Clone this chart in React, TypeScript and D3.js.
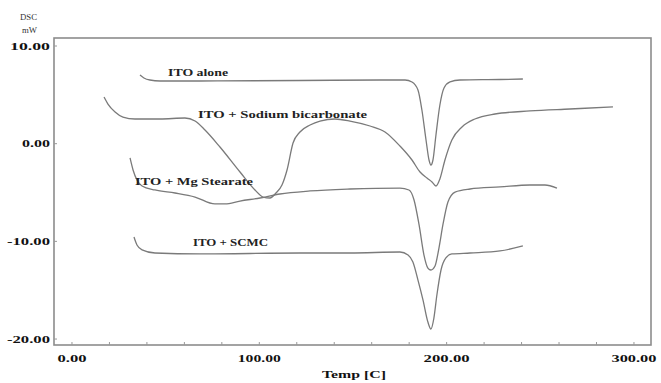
import React from "react";
import * as d3 from "d3";

// ---- data ----
const xTicks = [0, 100, 200, 300];
const xTickLabels = ["0.00", "100.00", "200.00", "300.00"];
const yTicks = [10, 0, -10, -20];
const yTickLabels = ["10.00", "0.00", "-10.00", "-20.00"];

const itoAloneT = [36.3, 38.4, 41.6, 47.0, 68.3, 121.7, 164.4, 177.8, 181.5, 184.7, 186.8, 189.0, 190.6, 191.6, 192.7, 194.3, 196.4, 198.6, 201.8, 207.1, 228.5, 240.7];
const itoAloneY = [7.03, 6.73, 6.52, 6.42, 6.42, 6.47, 6.52, 6.52, 6.32, 5.5, 3.45, 0.38, -1.67, -2.18, -1.67, 0.89, 3.96, 5.7, 6.32, 6.52, 6.57, 6.62];

const sodiumT = [17.1, 19.2, 23.0, 27.2, 33.6, 47.0, 60.3, 65.7, 71.0, 79.0, 89.7, 97.7, 102.0, 105.7, 108.9, 112.1, 114.8, 118.0, 121.7, 127.1, 132.4, 140.4, 148.4, 159.1, 167.1, 175.1, 181.5, 185.8, 189.5, 192.2, 194.3, 196.4, 199.1, 202.8, 208.2, 215.1, 225.8, 244.5, 265.8, 288.8];
const sodiumY = [4.78, 4.06, 3.25, 2.73, 2.53, 2.53, 2.63, 2.32, 1.4, -0.34, -2.9, -4.74, -5.46, -5.56, -5.05, -4.23, -2.69, 0.07, 1.2, 1.91, 2.32, 2.53, 2.32, 1.81, 1.2, -0.24, -1.67, -2.9, -3.51, -3.92, -4.33, -3.61, -1.67, 0.38, 1.71, 2.53, 3.04, 3.35, 3.55, 3.76];

const mgT = [31.0, 32.6, 34.7, 37.4, 44.3, 55.0, 65.7, 76.3, 81.7, 89.7, 100.4, 111.0, 127.1, 148.4, 175.1, 179.9, 182.6, 185.3, 187.9, 190.0, 191.6, 193.8, 195.9, 198.0, 200.7, 204.5, 212.5, 228.5, 244.5, 252.5, 258.9];
const mgY = [-1.46, -2.69, -3.72, -4.33, -4.74, -5.05, -5.46, -6.17, -6.17, -5.87, -5.56, -5.15, -4.84, -4.64, -4.54, -4.74, -5.76, -8.32, -11.4, -12.73, -12.93, -12.52, -10.68, -8.32, -5.97, -4.95, -4.64, -4.43, -4.23, -4.23, -4.54];

const scmcT = [33.1, 34.7, 37.4, 44.3, 68.3, 121.7, 148.4, 175.1, 179.4, 182.0, 184.7, 187.4, 190.0, 191.6, 193.2, 194.8, 197.0, 199.6, 202.8, 212.5, 228.5, 240.7];
const scmcY = [-9.55, -10.37, -10.87, -11.19, -11.29, -11.19, -11.19, -11.09, -11.4, -12.11, -13.96, -16.01, -18.26, -18.97, -17.85, -15.49, -12.93, -11.7, -11.29, -11.19, -10.98, -10.47];

const seriesNames = ["ITO alone", "ITO + Sodium bicarbonate", "ITO + Mg Stearate", "ITO + SCMC"];
const seriesT = [itoAloneT, sodiumT, mgT, scmcT];
const seriesY = [itoAloneY, sodiumY, mgY, scmcY];
// label anchor positions in data units (temperature, DSC)
const labelT = [51.3, 67.3, 33.6, 64.6];
const labelY = [6.93, 2.63, -4.23, -10.47];
const labelW = [60, 169, 118, 75];

// ---- layout ----
const W = 661, H = 383;
const L = 54, R = 651, T = 38, B = 345;
const x = d3.scaleLinear().domain([-9.6, 309.1]).range([L, R]);
const y = d3.scaleLinear().domain([-20.61, 10.82]).range([B, T]);

const font = "'Liberation Serif', 'Times New Roman', serif";
const lineColor = "#7a7a7a";

export default function App() {
  const line = d3
    .line<number>()
    .x((_, i) => 0)
    .curve(d3.curveMonotoneX);

  const paths = seriesT.map((ts, s) => {
    const pts: [number, number][] = ts.map((t, i) => [x(t), y(seriesY[s][i])]);
    return d3.line().curve(d3.curveMonotoneX)(pts) || "";
  });

  const minorX = d3.range(0, 301, 20);
  const xLabelW = [29, 43, 46, 45];
  const yLabelW = [40, 28, 43, 43];

  return (
    <svg
      width={W}
      height={H}
      style={{ position: "absolute", left: 0, top: 0, display: "block", background: "#fff" }}
    >
      {/* frame */}
      <rect x={L} y={T} width={R - L} height={B - T} fill="none" stroke="#8c8c8c" strokeWidth={1.6} />

      {/* x ticks */}
      {minorX.map((t) => (
        <line key={"mx" + t} x1={x(t)} x2={x(t)} y1={B} y2={B - 3} stroke="#999" strokeWidth={1} />
      ))}
      {yTicks.map((t) => (
        <line key={"my" + t} x1={L} x2={L + 3} y1={y(t)} y2={y(t)} stroke="#999" strokeWidth={1} />
      ))}

      {/* x tick labels */}
      {xTicks.map((t, i) => (
        <text
          key={"xl" + t}
          x={x(t) - xLabelW[i] / 2}
          y={362}
          fontFamily={font}
          fontWeight="bold"
          fontSize={10.5}
          textLength={xLabelW[i]}
          lengthAdjust="spacingAndGlyphs"
          fill="#111"
        >
          {xTickLabels[i]}
        </text>
      ))}

      {/* y tick labels */}
      {yTicks.map((t, i) => (
        <text
          key={"yl" + t}
          x={50 - yLabelW[i]}
          y={y(t) + 3.6}
          fontFamily={font}
          fontWeight="bold"
          fontSize={10.5}
          textLength={yLabelW[i]}
          lengthAdjust="spacingAndGlyphs"
          fill="#111"
        >
          {yTickLabels[i]}
        </text>
      ))}

      {/* axis titles */}
      <text x={20} y={20} fontFamily={font} fontSize={8} textLength={17} lengthAdjust="spacingAndGlyphs" fill="#333">
        DSC
      </text>
      <text x={22} y={33} fontFamily={font} fontSize={8} textLength={15} lengthAdjust="spacingAndGlyphs" fill="#333">
        mW
      </text>
      <text
        x={322}
        y={378}
        fontFamily={font}
        fontWeight="bold"
        fontSize={11}
        textLength={64}
        lengthAdjust="spacingAndGlyphs"
        fill="#111"
      >
        Temp [C]
      </text>

      {/* curves */}
      {paths.map((d, i) => (
        <path key={"p" + i} d={d} fill="none" stroke={lineColor} strokeWidth={1.3} strokeLinejoin="round" />
      ))}

      {/* curve labels */}
      {seriesNames.map((n, i) => (
        <text
          key={"cl" + i}
          x={x(labelT[i])}
          y={y(labelY[i])}
          fontFamily={font}
          fontWeight="bold"
          fontSize={10.5}
          textLength={labelW[i]}
          lengthAdjust="spacingAndGlyphs"
          fill="#222"
        >
          {n}
        </text>
      ))}
    </svg>
  );
}
